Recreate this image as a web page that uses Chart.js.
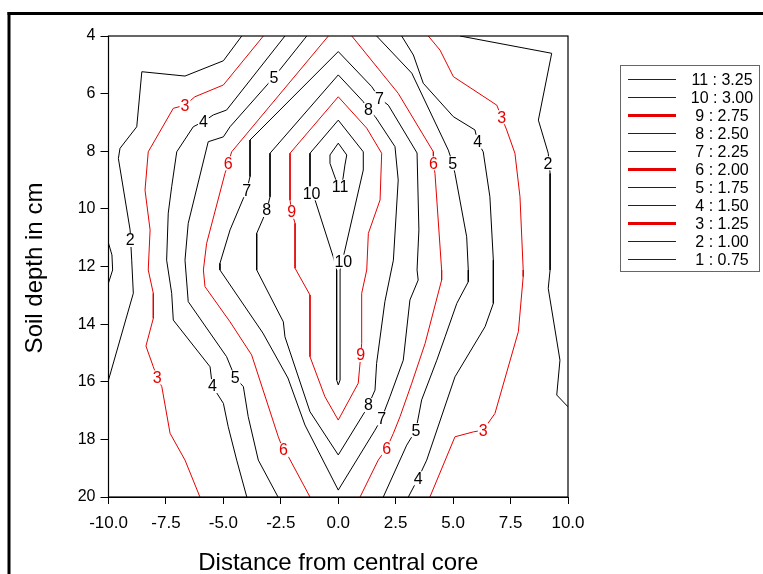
<!DOCTYPE html>
<html><head><meta charset="utf-8">
<script src="https://cdn.jsdelivr.net/npm/chart.js@4/dist/chart.umd.min.js"></script>
<style>html,body{margin:0;padding:0;background:#fff;}canvas{display:block;}</style>
</head><body>
<canvas id="c" width="763" height="574"></canvas>
<script>
// ---- data (x = distance from central core, y = soil depth in cm) ----
const xTicks = [-10, -7.5, -5, -2.5, 0, 2.5, 5, 7.5, 10];
const yTicks = [4, 6, 8, 10, 12, 14, 16, 18, 20];
const legendLabels = ["11 : 3.25","10 : 3.00","9 : 2.75","8 : 2.50","7 : 2.25","6 : 2.00","5 : 1.75","4 : 1.50","3 : 1.25","2 : 1.00","1 : 0.75"];
const legendLevels = [11,10,9,8,7,6,5,4,3,2,1];
const redLevels = [3, 6, 9];

const contour1 = [[-10,11.19],[-9.85,11.6],[-9.82,12.12],[-10,12.57]];
const contour2Left = [[-4.2,4],[-5.0,4.86],[-6.67,5.39],[-8.55,5.24],[-8.77,7.15],[-9.5,7.9],[-9.57,8.25],[-9.06,10.73],[-8.99,11.78],[-8.92,12.93],[-10,15.94]];
const contour2Right = [[5.3,4],[9.29,4.6],[8.71,6.92],[9.14,8.07],[9.22,8.77],[9.22,12.12],[9.14,12.76],[9.65,15.25],[9.51,16.46],[10,16.87]];
const contour3Left = [[-3.26,4],[-5.0,5.7],[-6.24,6.11],[-6.67,6.4],[-7.18,6.51],[-8.27,8.02],[-8.41,9.35],[-8.19,10.73],[-8.27,12.12],[-8.05,12.93],[-8.05,13.8],[-8.37,14.76],[-8.05,15.48],[-7.88,15.85],[-7.68,16.17],[-7.32,17.79],[-6.67,18.72],[-6.02,20]];
const contour3Right = [[3.92,4],[4.43,4.49],[5.01,5.41],[6.9,6.4],[7.11,6.82],[7.33,7.26],[7.69,8.07],[7.91,9.58],[8.05,12.12],[8.05,12.35],[7.84,14.26],[6.82,17.1],[6.31,17.68],[5.88,17.74],[5.08,17.91],[3.99,20]];
const contour4Left = [[-2.32,4],[-4.86,6.57],[-5.44,6.74],[-5.87,6.97],[-6.31,7.15],[-7.03,8.02],[-7.25,9.23],[-7.4,10.15],[-7.47,11.78],[-7.25,12.93],[-7.18,13.86],[-5.58,15.48],[-5.48,16.15],[-5.0,16.75],[-4.79,17.56],[-4.42,18.72],[-3.98,20]];
const contour4Right = [[2.76,4],[3.27,4.66],[3.7,5.64],[5.01,6.8],[5.95,7.26],[6.07,7.67],[6.31,8.02],[6.6,9.58],[6.75,11.78],[6.75,13.28],[6.39,14.09],[5.08,15.83],[3.85,18.72],[3.48,19.35],[3.05,20]];
const contour5Left = [[-1.37,4],[-2.8,5.43],[-4.71,7.15],[-5.0,7.5],[-5.66,7.67],[-6.53,10.5],[-6.67,11.78],[-6.53,13.22],[-4.86,15.13],[-4.49,15.85],[-4.13,16.17],[-3.92,17.21],[-3.48,18.72],[-2.62,20]];
const contour5Right = [[1.67,4],[3.2,5.29],[4.79,7.96],[4.98,8.42],[5.08,8.77],[5.59,10.97],[5.66,12.12],[5.66,12.53],[5.16,13.28],[4.65,14.44],[4.29,15.25],[3.63,16.63],[3.38,17.68],[2.98,18.2],[1.96,20]];
const contour6Left = [[-0.43,4],[-4.64,8.02],[-4.79,8.42],[-4.93,8.77],[-5.73,11.2],[-5.87,12.12],[-5.8,12.7],[-4.71,13.92],[-3.77,15.07],[-2.61,17.91],[-2.39,18.37],[-2.17,18.6],[-1.23,20]];
const contour6Right = [[0.59,4],[2.61,5.99],[4.14,8.02],[4.14,8.42],[4.21,8.77],[4.5,12.12],[4.5,12.47],[3.78,14.67],[3.2,16.05],[2.69,17.21],[2.4,17.79],[2.11,18.31],[1.74,18.72],[0.95,20]];
const contour7 = [[0,4.54],[-3.84,7.61],[-3.84,8.88],[-3.98,9.35],[-4.71,10.73],[-5.15,11.89],[-5.15,12.12],[-3.28,14.31],[-2.19,15.87],[-1.45,17.5],[0,19.76],[1.6,17.68],[1.89,17.27],[2.25,16.52],[2.83,15.25],[3.12,13.16],[3.48,12.47],[3.43,12.12],[3.51,10.73],[3.43,8.06],[2.18,6.4],[1.79,6.16],[1.46,5.76],[0,4.54]];
const contour8 = [[0,5.35],[-2.97,8.07],[-2.97,9.58],[-3.11,10.04],[-3.55,10.85],[-3.55,12.12],[-2.39,13.92],[-2.32,14.44],[-1.23,17.04],[0,18.54],[1.16,17.04],[1.31,16.81],[1.6,16.29],[1.67,15.36],[2.03,13.22],[2.4,11.78],[2.61,9.0],[2.47,7.84],[1.61,6.8],[1.31,6.57],[1.09,6.28],[0,5.35]];
const contour9 = [[0,6.11],[-2.1,8.07],[-2.1,9.69],[-2.03,10.1],[-1.88,10.5],[-1.88,12.06],[-1.23,12.99],[-1.23,15.13],[-0.58,16.52],[0,17.33],[0.87,16.05],[0.98,15.07],[1.02,14.67],[1.02,12.93],[1.24,12.12],[1.31,10.85],[1.82,9.69],[1.89,8.07],[1.24,7.2],[0,6.11]];
const contour10 = [[0,6.92],[-1.23,8.07],[-1.23,9.23],[-1.16,9.46],[-1.01,9.69],[-0.22,11.66],[-0.07,12.12],[-0.07,15.94],[0,16.11],[0.08,15.94],[0.08,12.12],[0.29,11.43],[1.09,8.65],[1.09,8.02],[0,6.92]];
const contour11 = [[0,7.72],[0.37,8.13],[0.29,8.48],[0.21,8.93],[0.08,9.35],[-0.1,9.0],[-0.36,8.42],[-0.36,8.13],[0,7.72]];

const contourLabels = [["5",-2.80,5.43],["3",-6.67,6.40],["4",-5.87,6.97],["6",-4.79,8.42],["7",-3.98,9.35],["8",-3.11,10.04],["9",-2.03,10.10],["10",-1.16,9.46],["11",0.08,9.23],["2",-9.06,11.08],["10",0.22,11.83],["7",1.79,6.16],["8",1.31,6.57],["3",7.11,6.82],["4",6.07,7.67],["6",4.14,8.42],["5",4.98,8.42],["2",9.13,8.42],["3",-7.88,15.85],["4",-5.48,16.15],["5",-4.49,15.85],["9",0.98,15.07],["8",1.31,16.81],["7",1.89,17.27],["6",-2.39,18.37],["6",2.11,18.31],["5",3.38,17.68],["3",6.31,17.68],["4",3.48,19.35]];

// ---- build ----
const FONT = '"Liberation Sans", Arial, Helvetica, sans-serif';
const RED = '#e60000';
const BLACK = '#000000';
const series = [
  [1, contour1],[2, contour2Left],[2, contour2Right],[3, contour3Left],[3, contour3Right],
  [4, contour4Left],[4, contour4Right],[5, contour5Left],[5, contour5Right],
  [6, contour6Left],[6, contour6Right],[7, contour7],[8, contour8],[9, contour9],[10, contour10],[11, contour11]
];
const isRed = lv => redLevels.includes(lv);
const datasets = series.map(([lv, pts]) => ({
  data: pts.map(p => ({x: p[0], y: p[1]})),
  showLine: true, borderColor: isRed(lv) ? RED : BLACK, borderWidth: 1,
  pointRadius: 0, fill: false, tension: 0
}));

const decor = {
  id: 'decor',
  afterDatasetsDraw(chart) {
    const {ctx, chartArea: a, scales: {x, y}} = chart;
    ctx.save();
    ctx.font = '16px ' + FONT;
    ctx.textAlign = 'center';
    ctx.textBaseline = 'middle';
    contourLabels.forEach(([t, vx, vy]) => {
      const px = x.getPixelForValue(vx), py = y.getPixelForValue(vy);
      const w = ctx.measureText(t).width;
      ctx.fillStyle = '#fff';
      ctx.fillRect(px - w / 2 - 1, py - 7, w + 2, 14);
      ctx.fillStyle = isRed(parseInt(t)) ? RED : BLACK;
      ctx.fillText(t, px, py + 1);
    });
    ctx.strokeStyle = '#000';
    ctx.lineWidth = 1.2;
    ctx.strokeRect(a.left, a.top, a.right - a.left, a.bottom - a.top);
    ctx.restore();
  },
  afterDraw(chart) {
    const ctx = chart.ctx;
    ctx.save();
    // outer frame
    ctx.fillStyle = '#000';
    ctx.fillRect(7.5, 12, 763, 3);
    ctx.fillRect(7.5, 12, 3, 574);
    // axis titles
    ctx.font = '24px ' + FONT;
    ctx.fillStyle = '#000';
    ctx.textAlign = 'center';
    ctx.textBaseline = 'alphabetic';
    ctx.fillText('Distance from central core', 338.3, 570);
    ctx.translate(42, 268);
    ctx.rotate(-Math.PI / 2);
    ctx.fillText('Soil depth in cm', 0, 0);
    ctx.restore();
    // legend
    ctx.save();
    ctx.strokeStyle = '#666';
    ctx.lineWidth = 1;
    ctx.strokeRect(620.5, 65.5, 139, 206);
    ctx.font = '16px ' + FONT;
    ctx.textAlign = 'center';
    ctx.textBaseline = 'middle';
    legendLabels.forEach((t, i) => {
      const yy = 79.5 + i * 18;
      const red = isRed(legendLevels[i]);
      ctx.beginPath();
      ctx.strokeStyle = red ? RED : '#222';
      ctx.lineWidth = red ? 3 : 1;
      ctx.moveTo(628, yy); ctx.lineTo(676, yy);
      ctx.stroke();
      ctx.fillStyle = '#000';
      ctx.fillText(t, 722, yy + 1);
    });
    ctx.restore();
  }
};

new Chart(document.getElementById('c'), {
  type: 'scatter',
  data: { datasets },
  options: {
    responsive: false, animation: false, devicePixelRatio: 1,
    layout: { padding: { left: 0, top: 36, right: 195, bottom: 0 } },
    plugins: { legend: { display: false }, tooltip: { enabled: false } },
    scales: {
      x: {
        type: 'linear', min: -10, max: 10,
        afterBuildTicks: s => { s.ticks = xTicks.map(v => ({value: v})); },
        afterFit: s => { s.height = 77; },
        ticks: { callback: v => Number(v).toFixed(1), color: '#000', font: { size: 17, family: FONT }, padding: 9, maxRotation: 0, autoSkip: false },
        grid: { display: true, drawOnChartArea: false, drawTicks: true, tickLength: 7, color: '#000', lineWidth: 1 },
        border: { display: true, color: '#000', width: 1 }
      },
      y: {
        type: 'linear', min: 4, max: 20, reverse: true,
        afterBuildTicks: s => { s.ticks = yTicks.map(v => ({value: v})); },
        afterFit: s => { s.width = 108.5; },
        ticks: { color: '#000', font: { size: 16, family: FONT }, padding: 5, autoSkip: false },
        grid: { display: true, drawOnChartArea: false, drawTicks: true, tickLength: 8, color: '#000', lineWidth: 1 },
        border: { display: true, color: '#000', width: 1 }
      }
    }
  },
  plugins: [decor]
});
</script>
</body></html>
